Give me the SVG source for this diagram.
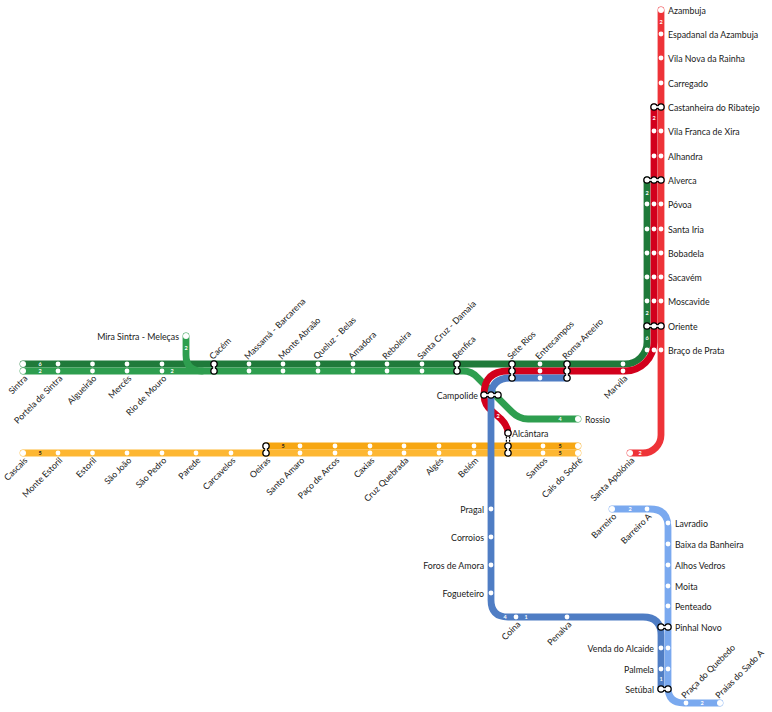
<svg xmlns="http://www.w3.org/2000/svg" width="772" height="712" viewBox="0 0 772 712">
<defs>
<style>
text{font-family:Lato,"Open Sans",sans-serif;font-size:8.8px;fill:#1a1a1a}
.n{font-size:5.5px;font-weight:700;fill:#fff;text-anchor:middle}
.k{fill:#222}
.e{text-anchor:end}
.l{fill:none;stroke-width:6.8;stroke-linecap:round;stroke-linejoin:round}
.d{fill:#fff}
.c{stroke:#000;stroke-width:7.6;stroke-linecap:round;fill:none}
.cw{stroke:#fff;stroke-width:5;stroke-linecap:round;fill:none}
.neckw{stroke:#fff;stroke-width:1.6;fill:none}
.dash{stroke:#000;stroke-width:4.4;stroke-dasharray:2 1.4;fill:none}
.dashw{stroke:#fff;stroke-width:2;fill:none}
</style>
</defs>
<rect width="772" height="712" fill="#fff"/>
<g id="connectors">
<path class="l" stroke="#fdb733" d="M23 453H578"/>
<path class="l" stroke="#f7a713" d="M266 446H578"/>
<path class="l" stroke="#ee3338" d="M661 10V435A18 18 0 0 1 643 453H630"/>
<path class="l" stroke="#1f7a3a" d="M23 364H625A22 22 0 0 0 647 342V180"/>
<path class="l" stroke="#2e9e4f" d="M186 336V355Q186 371 202 371"/>
<path class="l" stroke="#2e9e4f" d="M23 371H463Q472 371 478 378L512 412Q519 419 528 419H578"/>
<path class="l" stroke="#d2001c" d="M654 107V342A29 29 0 0 1 625 371H508Q484 371 484 395Q484 405 492 411L501 419Q508 426 508 433"/>
<path class="l" stroke="#4f7dc4" d="M567 378H510Q491 378 491 397V600Q491 617 508 617H643Q661 617 661 635V689"/>
<path class="l" stroke="#7aa9ef" d="M612 509H650Q668 509 668 527V687Q668 703 684 703H720"/>
</g>
<g id="line-numbers">
<text class="n" x="40" y="366">6</text><text class="n" x="40" y="373">2</text><text class="n" x="172" y="373">2</text><text class="n" x="186" y="350">2</text>
<text class="n k" x="40" y="455">5</text><text class="n k" x="283" y="448">5</text><text class="n k" x="560" y="448">5</text><text class="n k" x="560" y="455">5</text>
<text class="n" x="560" y="421">4</text><text class="n" x="498" y="418">2</text><text class="n" x="640" y="455">2</text>
<text class="n" x="661" y="24">2</text><text class="n" x="654" y="120">2</text><text class="n" x="647" y="195">2</text><text class="n" x="647" y="315">2</text><text class="n" x="647" y="340">6</text>
<text class="n" x="505" y="619">4</text><text class="n" x="526" y="619">1</text><text class="n" x="630" y="511">2</text><text class="n" x="702" y="705">2</text><text class="n" x="661" y="681">1</text>
</g>
<g id="sintra"><circle class="d" cx="23" cy="364" r="3"/><circle class="d" cx="23" cy="371" r="3"/><text transform="translate(28 379) rotate(-45)" class="e">Sintra</text></g>
<g id="portela"><circle class="d" cx="58" cy="364" r="2.4"/><circle class="d" cx="58" cy="371" r="2.4"/><text transform="translate(63 379) rotate(-45)" class="e">Portela de Sintra</text></g>
<g id="algueirao"><circle class="d" cx="92.500" cy="364" r="2.4"/><circle class="d" cx="92.500" cy="371" r="2.4"/><text transform="translate(97 379) rotate(-45)" class="e">Algueirão</text></g>
<g id="merces"><circle class="d" cx="127" cy="364" r="2.4"/><circle class="d" cx="127" cy="371" r="2.4"/><text transform="translate(132 379) rotate(-45)" class="e">Mercês</text></g>
<g id="rio-de-mouro"><circle class="d" cx="162" cy="364" r="2.4"/><circle class="d" cx="162" cy="371" r="2.4"/><text transform="translate(167 379) rotate(-45)" class="e">Rio de Mouro</text></g>
<g id="mira-sintra"><circle class="d" cx="186" cy="336" r="3"/><text class="e" x="179" y="339.500">Mira Sintra - Meleças</text></g>
<g id="cacem"><path class="c" d="M214 364h0M214 371h0"/><path class="cw" d="M214 364h0M214 371h0"/><path class="neckw" d="M214 364V371"/><text transform="translate(213 360) rotate(-45)">Cacém</text></g>
<g id="massama"><circle class="d" cx="249" cy="364" r="2.4"/><circle class="d" cx="249" cy="371" r="2.4"/><text transform="translate(248 360) rotate(-45)">Massamá - Barcarena</text></g>
<g id="monte-abraao"><circle class="d" cx="283" cy="364" r="2.4"/><circle class="d" cx="283" cy="371" r="2.4"/><text transform="translate(282 360) rotate(-45)">Monte Abraão</text></g>
<g id="queluz"><circle class="d" cx="318" cy="364" r="2.4"/><circle class="d" cx="318" cy="371" r="2.4"/><text transform="translate(317 360) rotate(-45)">Queluz - Belas</text></g>
<g id="amadora"><circle class="d" cx="353" cy="364" r="2.4"/><circle class="d" cx="353" cy="371" r="2.4"/><text transform="translate(352 360) rotate(-45)">Amadora</text></g>
<g id="reboleira"><circle class="d" cx="387" cy="364" r="2.4"/><circle class="d" cx="387" cy="371" r="2.4"/><text transform="translate(386 360) rotate(-45)">Reboleira</text></g>
<g id="santa-cruz"><circle class="d" cx="422" cy="364" r="2.4"/><circle class="d" cx="422" cy="371" r="2.4"/><text transform="translate(421 360) rotate(-45)">Santa Cruz - Damaia</text></g>
<g id="benfica"><path class="c" d="M457 364h0M457 371h0"/><path class="cw" d="M457 364h0M457 371h0"/><path class="neckw" d="M457 364V371"/><text transform="translate(456 360) rotate(-45)">Benfica</text></g>
<g id="sete-rios"><path class="c" d="M512 364h0M512 371h0M512 378h0"/><path class="cw" d="M512 364h0M512 371h0M512 378h0"/><path class="neckw" d="M512 364V378"/><text transform="translate(511 360) rotate(-45)">Sete Rios</text></g>
<g id="entrecampos"><circle class="d" cx="540" cy="364" r="2.4"/><circle class="d" cx="540" cy="371" r="2.4"/><circle class="d" cx="540" cy="378" r="2.4"/><text transform="translate(539 360) rotate(-45)">Entrecampos</text></g>
<g id="roma-areeiro"><path class="c" d="M567 364h0M567 371h0M567 378h0"/><path class="cw" d="M567 364h0M567 371h0M567 378h0"/><path class="neckw" d="M567 364V378"/><text transform="translate(566 360) rotate(-45)">Roma-Areeiro</text></g>
<g id="marvila"><circle class="d" cx="623" cy="364" r="2.4"/><circle class="d" cx="623" cy="371" r="2.4"/><text transform="translate(628 379) rotate(-45)" class="e">Marvila</text></g>
<g id="campolide"><path class="c" d="M484 395h0M491 395h0M498 395h0"/><path class="cw" d="M484 395h0M491 395h0M498 395h0"/><path class="neckw" d="M484 395H498"/><text class="e" x="478" y="398.500">Campolide</text></g>
<g id="rossio"><circle class="d" cx="578" cy="419" r="3"/><text x="585" y="423">Rossio</text></g>
<g id="alcantara"><path class="dash" d="M508 433V446"/><path class="dashw" d="M508 433V446"/><path class="c" d="M508 433h0M508 446h0M508 453h0"/><path class="cw" d="M508 433h0M508 446h0M508 453h0"/><path class="neckw" d="M508 446V453"/><text x="512" y="437">Alcântara</text></g>
<g id="cascais"><circle class="d" cx="23" cy="453" r="3"/><text transform="translate(28 461) rotate(-45)" class="e">Cascais</text></g>
<g id="monte-estoril"><circle class="d" cx="58" cy="453" r="2.4"/><text transform="translate(63 461) rotate(-45)" class="e">Monte Estoril</text></g>
<g id="estoril"><circle class="d" cx="92.500" cy="453" r="2.4"/><text transform="translate(97 461) rotate(-45)" class="e">Estoril</text></g>
<g id="sao-joao"><circle class="d" cx="127" cy="453" r="2.4"/><text transform="translate(132 461) rotate(-45)" class="e">São João</text></g>
<g id="sao-pedro"><circle class="d" cx="162" cy="453" r="2.4"/><text transform="translate(167 461) rotate(-45)" class="e">São Pedro</text></g>
<g id="parede"><circle class="d" cx="196" cy="453" r="2.4"/><text transform="translate(201 461) rotate(-45)" class="e">Parede</text></g>
<g id="carcavelos"><circle class="d" cx="231" cy="453" r="2.4"/><text transform="translate(236 461) rotate(-45)" class="e">Carcavelos</text></g>
<g id="oeiras"><path class="c" d="M266 446h0M266 453h0"/><path class="cw" d="M266 446h0M266 453h0"/><path class="neckw" d="M266 446V453"/><text transform="translate(271 461) rotate(-45)" class="e">Oeiras</text></g>
<g id="santo-amaro"><circle class="d" cx="300" cy="446" r="2.4"/><circle class="d" cx="300" cy="453" r="2.4"/><text transform="translate(305 461) rotate(-45)" class="e">Santo Amaro</text></g>
<g id="paco-de-arcos"><circle class="d" cx="335" cy="446" r="2.4"/><circle class="d" cx="335" cy="453" r="2.4"/><text transform="translate(340 461) rotate(-45)" class="e">Paço de Arcos</text></g>
<g id="caxias"><circle class="d" cx="370" cy="446" r="2.4"/><circle class="d" cx="370" cy="453" r="2.4"/><text transform="translate(375 461) rotate(-45)" class="e">Caxias</text></g>
<g id="cruz-quebrada"><circle class="d" cx="404" cy="446" r="2.4"/><circle class="d" cx="404" cy="453" r="2.4"/><text transform="translate(409 461) rotate(-45)" class="e">Cruz Quebrada</text></g>
<g id="alges"><circle class="d" cx="439" cy="446" r="2.4"/><circle class="d" cx="439" cy="453" r="2.4"/><text transform="translate(444 461) rotate(-45)" class="e">Algés</text></g>
<g id="belem"><circle class="d" cx="474" cy="446" r="2.4"/><circle class="d" cx="474" cy="453" r="2.4"/><text transform="translate(479 461) rotate(-45)" class="e">Belém</text></g>
<g id="santos"><circle class="d" cx="543" cy="446" r="2.4"/><circle class="d" cx="543" cy="453" r="2.4"/><text transform="translate(548 461) rotate(-45)" class="e">Santos</text></g>
<g id="cais-do-sodre"><circle class="d" cx="578" cy="446" r="3"/><circle class="d" cx="578" cy="453" r="3"/><text transform="translate(583 461) rotate(-45)" class="e">Cais do Sodré</text></g>
<g id="santa-apolonia"><circle class="d" cx="630" cy="453" r="3"/><text transform="translate(635 461) rotate(-45)" class="e">Santa Apolónia</text></g>
<g id="azambuja"><circle class="d" cx="661" cy="10" r="3"/><text x="668" y="14">Azambuja</text></g>
<g id="espadanal"><circle class="d" cx="661" cy="34" r="2.4"/><text x="668" y="38">Espadanal da Azambuja</text></g>
<g id="vila-nova"><circle class="d" cx="661" cy="58" r="2.4"/><text x="668" y="62">Vila Nova da Rainha</text></g>
<g id="carregado"><circle class="d" cx="661" cy="83" r="2.4"/><text x="668" y="87">Carregado</text></g>
<g id="castanheira"><path class="c" d="M654 107h0M661 107h0"/><path class="cw" d="M654 107h0M661 107h0"/><path class="neckw" d="M654 107H661"/><text x="668" y="111">Castanheira do Ribatejo</text></g>
<g id="vila-franca"><circle class="d" cx="654" cy="131" r="2.4"/><circle class="d" cx="661" cy="131" r="2.4"/><text x="668" y="135">Vila Franca de Xira</text></g>
<g id="alhandra"><circle class="d" cx="654" cy="156" r="2.4"/><circle class="d" cx="661" cy="156" r="2.4"/><text x="668" y="160">Alhandra</text></g>
<g id="alverca"><path class="c" d="M647 180h0M654 180h0M661 180h0"/><path class="cw" d="M647 180h0M654 180h0M661 180h0"/><path class="neckw" d="M647 180H661"/><text x="668" y="184">Alverca</text></g>
<g id="povoa"><circle class="d" cx="647" cy="204" r="2.4"/><circle class="d" cx="654" cy="204" r="2.4"/><circle class="d" cx="661" cy="204" r="2.4"/><text x="668" y="208">Póvoa</text></g>
<g id="santa-iria"><circle class="d" cx="647" cy="229" r="2.4"/><circle class="d" cx="654" cy="229" r="2.4"/><circle class="d" cx="661" cy="229" r="2.4"/><text x="668" y="233">Santa Iria</text></g>
<g id="bobadela"><circle class="d" cx="647" cy="253" r="2.4"/><circle class="d" cx="654" cy="253" r="2.4"/><circle class="d" cx="661" cy="253" r="2.4"/><text x="668" y="257">Bobadela</text></g>
<g id="sacavem"><circle class="d" cx="647" cy="277" r="2.4"/><circle class="d" cx="654" cy="277" r="2.4"/><circle class="d" cx="661" cy="277" r="2.4"/><text x="668" y="281">Sacavém</text></g>
<g id="moscavide"><circle class="d" cx="647" cy="301" r="2.4"/><circle class="d" cx="654" cy="301" r="2.4"/><circle class="d" cx="661" cy="301" r="2.4"/><text x="668" y="305">Moscavide</text></g>
<g id="oriente"><path class="c" d="M647 326h0M654 326h0M661 326h0"/><path class="cw" d="M647 326h0M654 326h0M661 326h0"/><path class="neckw" d="M647 326H661"/><text x="668" y="330">Oriente</text></g>
<g id="braco-de-prata"><circle class="d" cx="647" cy="350" r="2.4"/><circle class="d" cx="654" cy="350" r="2.4"/><circle class="d" cx="661" cy="350" r="2.4"/><text x="668" y="354">Braço de Prata</text></g>
<g id="pragal"><circle class="d" cx="491" cy="509" r="2.4"/><text class="e" x="484" y="513">Pragal</text></g>
<g id="corroios"><circle class="d" cx="491" cy="537" r="2.4"/><text class="e" x="484" y="541">Corroios</text></g>
<g id="foros-de-amora"><circle class="d" cx="491" cy="565" r="2.4"/><text class="e" x="484" y="569">Foros de Amora</text></g>
<g id="fogueteiro"><circle class="d" cx="491" cy="593" r="2.4"/><text class="e" x="484" y="597">Fogueteiro</text></g>
<g id="coina"><circle class="d" cx="516" cy="617" r="2.4"/><text transform="translate(521 625) rotate(-45)" class="e">Coina</text></g>
<g id="penalva"><circle class="d" cx="567" cy="617" r="2.4"/><text transform="translate(572 625) rotate(-45)" class="e">Penalva</text></g>
<g id="barreiro"><circle class="d" cx="612" cy="509" r="3"/><text transform="translate(617 517) rotate(-45)" class="e">Barreiro</text></g>
<g id="barreiro-a"><circle class="d" cx="647" cy="509" r="2.4"/><text transform="translate(652 517) rotate(-45)" class="e">Barreiro A</text></g>
<g id="lavradio"><circle class="d" cx="668" cy="523" r="2.4"/><text x="675" y="527">Lavradio</text></g>
<g id="baixa-da-banheira"><circle class="d" cx="668" cy="544" r="2.4"/><text x="675" y="548">Baixa da Banheira</text></g>
<g id="alhos-vedros"><circle class="d" cx="668" cy="565" r="2.4"/><text x="675" y="569">Alhos Vedros</text></g>
<g id="moita"><circle class="d" cx="668" cy="586" r="2.4"/><text x="675" y="590">Moita</text></g>
<g id="penteado"><circle class="d" cx="668" cy="606" r="2.4"/><text x="675" y="610">Penteado</text></g>
<g id="pinhal-novo"><path class="c" d="M661 627h0M668 627h0"/><path class="cw" d="M661 627h0M668 627h0"/><path class="neckw" d="M661 627H668"/><text x="675" y="631">Pinhal Novo</text></g>
<g id="venda-do-alcaide"><circle class="d" cx="661" cy="648" r="2.4"/><circle class="d" cx="668" cy="648" r="2.4"/><text class="e" x="654" y="652">Venda do Alcaide</text></g>
<g id="palmela"><circle class="d" cx="661" cy="669" r="2.4"/><circle class="d" cx="668" cy="669" r="2.4"/><text class="e" x="654" y="673">Palmela</text></g>
<g id="setubal"><path class="c" d="M661 689h0M668 689h0"/><path class="cw" d="M661 689h0M668 689h0"/><path class="neckw" d="M661 689H668"/><text class="e" x="654" y="693">Setúbal</text></g>
<g id="praca-do-quebedo"><circle class="d" cx="686" cy="703" r="2.4"/><text transform="translate(685 699) rotate(-45)">Praça do Quebedo</text></g>
<g id="praias-do-sado-a"><circle class="d" cx="720" cy="703" r="3"/><text transform="translate(719 699) rotate(-45)">Praias do Sado A</text></g>
</svg>
